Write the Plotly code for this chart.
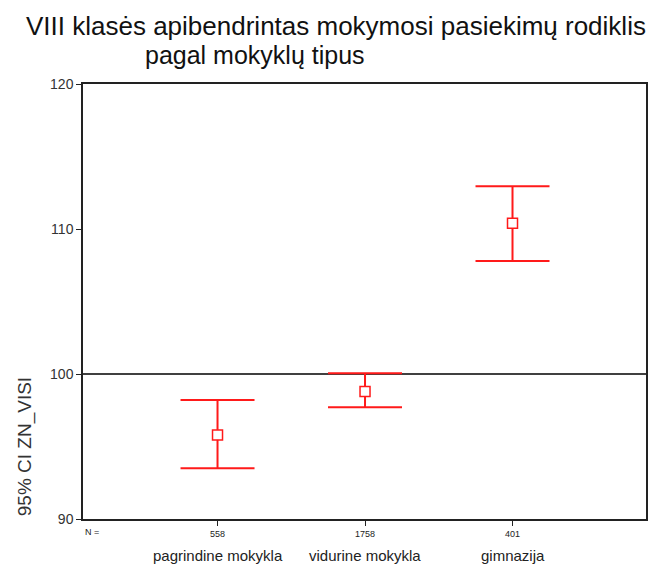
import plotly.graph_objects as go

categories = ["pagrindine mokykla", "vidurine mokykla", "gimnazija"]
n_counts = ["558", "1758", "401"]
means = [95.8, 98.8, 110.4]
ci_lower = [93.5, 97.7, 107.8]
ci_upper = [98.2, 100.05, 112.95]
y_ticks = [90, 100, 110, 120]

xpos = [i + 1 for i in range(len(categories))]
err_plus = [u - m for u, m in zip(ci_upper, means)]
err_minus = [m - l for m, l in zip(means, ci_lower)]

RED = "#ff1a1a"
FONT = "Liberation Sans, Arial, sans-serif"

fig = go.Figure()
fig.add_shape(type="line", xref="paper", x0=0, x1=1, yref="y", y0=100, y1=100,
              line=dict(color="black", width=1.5), layer="below")
fig.add_trace(go.Scatter(
    x=xpos, y=means, mode="markers",
    marker=dict(symbol="square", size=10, color="white", line=dict(color=RED, width=1.5)),
    error_y=dict(type="data", symmetric=False, array=err_plus, arrayminus=err_minus,
                 color=RED, thickness=2, width=37),
    showlegend=False,
))

# second title line
fig.add_annotation(x=0.106, xref="paper", y=1.066, yref="paper", xanchor="left", yanchor="middle",
                   text="pagal mokyklų tipus", showarrow=False,
                   font=dict(size=25, color="#111", family=FONT))
# category labels
for x, c in zip(xpos, categories):
    fig.add_annotation(x=x, xref="x", y=-0.083, yref="paper", yanchor="middle",
                       text=c, showarrow=False, font=dict(size=15, color="#222", family=FONT))
fig.add_annotation(x=0.0, xref="paper", y=-0.03, yref="paper", yanchor="middle",
                   text="N =", showarrow=False, font=dict(size=9, color="#222", family=FONT))
fig.add_annotation(x=-0.104, xref="paper", y=0.166, yref="paper", xanchor="center", yanchor="middle",
                   text="95% CI ZN_VISI", textangle=-90, showarrow=False,
                   font=dict(size=19, color="#333", family=FONT))

fig.update_layout(
    width=650, height=561,
    margin=dict(l=75, r=10, t=76, b=50),
    paper_bgcolor="white", plot_bgcolor="white",
    title=dict(text="VIII klasės apibendrintas mokymosi pasiekimų rodiklis",
               x=18 / 650, xanchor="left", xref="container",
               y=1 - 18 / 561, yanchor="middle", yref="container",
               font=dict(size=26, color="#111", family=FONT)),
    xaxis=dict(range=[0.088, 3.905], tickvals=xpos, ticktext=n_counts,
               showgrid=False, zeroline=False, showline=True, linecolor="#222", linewidth=1.5,
               mirror=True, ticks="outside", ticklen=5, tickcolor="#222",
               tickfont=dict(size=9, color="#222", family=FONT)),
    yaxis=dict(range=[90, 120], tickvals=y_ticks,
               showgrid=False, zeroline=False, showline=True, linecolor="#222", linewidth=1.5,
               mirror=True, ticks="outside", ticklen=5, tickcolor="#222",
               tickfont=dict(size=14, color="#333", family=FONT)),
)

fig.write_html("out.html")
